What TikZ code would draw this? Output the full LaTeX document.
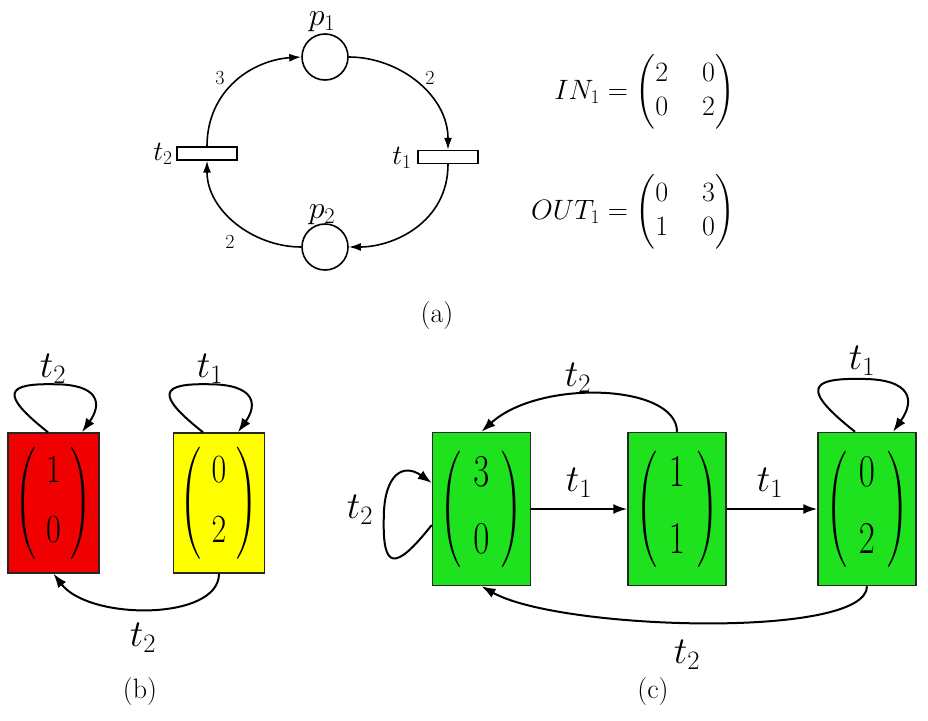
\RequirePackage{fix-cm}
\documentclass[tikz,border=0pt]{standalone}
\usepackage{amsmath}
\usepackage{graphicx}
\usetikzlibrary{arrows.meta,calc}
\definecolor{boxred}{RGB}{240,0,0}
\definecolor{boxyellow}{RGB}{255,255,0}
\definecolor{boxgreen}{RGB}{30,226,30}
\newcommand{\myvec}[5]{\scalebox{1}[#3]{$\setlength\arraycolsep{#5}\left(\begin{array}{c}#1\\[#4]#2\end{array}\right)$}}
\newcommand{\toploop}[3]{%
  \draw[sarc] (#1) .. controls ($(#1)+#2*(-48,-38)$) and ($(#1)+#2*(-43,-49)$) ..
    ($(#1)+#2*(6,-48)$) .. controls ($(#1)+#2*(52,-48)$) and ($(#3)+#2*(20,-28)$) .. (#3);}
\tikzset{
  place/.style={circle, draw, line width=1.6pt, minimum size=46pt, inner sep=0pt},
  trans/.style={rectangle, draw, line width=1.3pt, minimum width=60pt, minimum height=13pt, inner sep=0pt},
  pnarc/.style={line width=1.6pt, -{Latex[length=12pt,width=8pt]}},
  plbl/.style={inner sep=0pt, font=\fontsize{32}{38}\selectfont},
  tlbl/.style={inner sep=0pt, font=\fontsize{28}{34}\selectfont},
  wlbl/.style={inner sep=0pt, font=\fontsize{20}{24}\selectfont},
  mlbl/.style={inner sep=0pt, font=\fontsize{28}{34}\selectfont},
  captext/.style={inner sep=0pt, font=\fontsize{28}{34}\selectfont},
  bbox/.style={rectangle, draw=black!85, line width=1.5pt, minimum width=91pt, minimum height=140pt, inner sep=0pt, font=\fontsize{32}{38.4}\selectfont},
  gbox/.style={rectangle, draw=black!85, line width=1.5pt, fill=boxgreen, minimum width=98pt, minimum height=153pt, inner sep=0pt, font=\fontsize{35}{42}\selectfont},
  sarc/.style={line width=2pt, -{Latex[length=14pt,width=10pt]}},
  lbl/.style={inner sep=0pt, font=\fontsize{38}{45.6}\selectfont},
}
\begin{document}
\begin{tikzpicture}[x=1pt,y=-1pt]
\useasboundingbox (0,0) rectangle (928,720);
% ---------- (a) Petri net ----------
\node[place] (p1) at (325,57) {};
\node[place] (p2) at (325,247) {};
\node[trans] (t2) at (207,153.5) {};
\node[trans] (t1) at (448,157) {};
\node[plbl] (p1l) at (322,22) {$p_1$};
\node[plbl] (p2l) at (322,215) {$p_2$};
\node[tlbl] (t2l) at (163,154) {$t_2$};
\node[tlbl] (t1l) at (402,158) {$t_1$};
\draw[pnarc] (t2.north) .. controls ($(t2.north)+(0,-57)$) and ($(p1.west)+(-48,3)$) .. (p1.west);
\draw[pnarc] (p1.east) .. controls ($(p1.east)+(50,0)$) and ($(t1.north)+(0,-55)$) .. (t1.north);
\draw[pnarc] (t1.south) .. controls ($(t1.south)+(0,58)$) and ($(p2.east)+(45,0)$) .. (p2.east);
\draw[pnarc] (p2.west) .. controls ($(p2.west)+(-48,0)$) and ($(t2.south)+(0,50)$) .. (t2.south);
\node[wlbl] (w1) at (220,78) {3};
\node[wlbl] (w2) at (430,78) {2};
\node[wlbl] (w3) at (230,242) {2};
\node[mlbl, anchor=east] (IN) at (735,92) {\setlength\arraycolsep{17pt}$IN_1 = \begin{pmatrix}2&0\\0&2\end{pmatrix}$};
\node[mlbl, anchor=east] (OUT) at (735,212) {\setlength\arraycolsep{17pt}$OUT_1 = \begin{pmatrix}0&3\\1&0\end{pmatrix}$};
\node[captext] (capa) at (437,316) {(a)};
% ---------- (b) ----------
\node[bbox, fill=boxred] (R) at (53.5,503) {\myvec{1}{0}{1.25}{9pt}{10pt}};
\node[bbox, fill=boxyellow] (Y) at (219,503) {\myvec{0}{2}{1.25}{9pt}{10pt}};
\coordinate (Rs) at ([xshift=-5.5pt]R.north);
\coordinate (Re) at ([xshift=28.5pt]R.north);
\coordinate (Ys) at ([xshift=-16pt]Y.north);
\coordinate (Ye) at ([xshift=19pt]Y.north);
\toploop{Rs}{1}{Re}
\toploop{Ys}{1}{Ye}
\draw[sarc] (Y.south) .. controls ($(Y.south)+(0,47)$) and ($(R.south)+(36,47)$) .. (R.south);
\node[lbl] (lb1) at (53,369) {$t_2$};
\node[lbl] (lb2) at (210,369) {$t_1$};
\node[lbl] (lb3) at (143,638) {$t_2$};
\node[captext] (capb) at (140,692) {(b)};
% ---------- (c) ----------
\node[gbox] (A) at (481.5,509) {\myvec{3}{0}{1.3}{10pt}{12pt}};
\node[gbox] (B) at (677,509) {\myvec{1}{1}{1.3}{10pt}{12pt}};
\node[gbox] (C) at (867,509) {\myvec{0}{2}{1.3}{10pt}{12pt}};
\draw[sarc] (A.east) -- (B.west);
\draw[sarc] (B.east) -- (C.west);
\draw[sarc] (B.north) .. controls ($(B.north)+(0,-48)$) and ($(A.north)+(58,-53)$) .. (A.north);
\draw[sarc] (C.south) .. controls ($(C.south)+(0,53)$) and ($(A.south)+(78,44)$) .. (A.south);
\coordinate (Cs) at ([xshift=-12pt]C.north);
\coordinate (Ce) at ([xshift=26pt]C.north);
\toploop{Cs}{1.1}{Ce}
\coordinate (As) at ([yshift=-16pt]A.west);
\coordinate (Ae) at ([yshift=26pt]A.west);
\draw[sarc] (As) .. controls ($(As)+(-38,48)$) and ($(As)+(-49,43)$) .. ($(As)+(-48,-6)$)
  .. controls ($(As)+(-48,-52)$) and ($(Ae)+(-28,-20)$) .. (Ae);
\node[lbl] (lc1) at (578,378) {$t_2$};
\node[lbl] (lc2) at (862,361) {$t_1$};
\node[lbl] (lc3) at (360,510) {$t_2$};
\node[lbl] (lc4) at (687,655) {$t_2$};
\node[lbl] (lc5) at (579,483) {$t_1$};
\node[lbl] (lc6) at (770,483) {$t_1$};
\node[captext] (capc) at (653,692) {(c)};
\end{tikzpicture}
\end{document}
